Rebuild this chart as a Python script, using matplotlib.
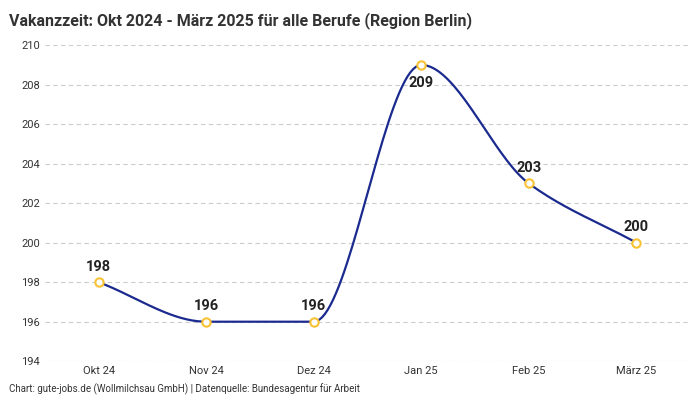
import numpy as np
import matplotlib.pyplot as plt

months = ['Okt 24', 'Nov 24', 'Dez 24', 'Jan 25', 'Feb 25', 'März 25']
vacancy_days = [198, 196, 196, 209, 203, 200]
y_ticks = [194, 196, 198, 200, 202, 204, 206, 208, 210]


def monotone_curve(x, y, n=40):
    """Fritsch-Carlson monotone cubic, used only to draw the smooth line"""
    x = np.asarray(x, float)
    y = np.asarray(y, float)
    h = np.diff(x)
    d = np.diff(y) / h
    m = np.zeros_like(y)
    m[0], m[-1] = d[0], d[-1]
    for i in range(1, len(y) - 1):
        if d[i - 1] * d[i] <= 0:
            m[i] = 0
        else:
            m[i] = 3 * (h[i - 1] + h[i]) / ((2 * h[i] + h[i - 1]) / d[i - 1] + (h[i] + 2 * h[i - 1]) / d[i])
    xs, ys = [], []
    for i in range(len(h)):
        t = np.linspace(0, 1, n)
        h00 = 2 * t**3 - 3 * t**2 + 1
        h10 = t**3 - 2 * t**2 + t
        h01 = -2 * t**3 + 3 * t**2
        h11 = t**3 - t**2
        xs.append(x[i] + t * h[i])
        ys.append(h00 * y[i] + h10 * h[i] * m[i] + h01 * y[i + 1] + h11 * h[i] * m[i + 1])
    return np.concatenate(xs), np.concatenate(ys)


plt.rcParams['font.family'] = 'Roboto'
fig = plt.figure(figsize=(7, 4), dpi=100)
ax = fig.add_axes([0.064, 0.097, 0.922, 0.79])

x = np.arange(len(months))
cx, cy = monotone_curve(x, vacancy_days)
ax.plot(cx, cy, color='#1b2a8f', lw=1.6, zorder=2)
ax.plot(x, vacancy_days, 'o', ms=6, mfc='white', mec='#f7c234', mew=1.5, zorder=3)

for xi, v in zip(x, vacancy_days):
    if v == max(vacancy_days):
        ax.annotate(str(v), (xi, v), xytext=(0, -8), textcoords='offset points',
                    ha='center', va='top', fontsize=10.5, fontweight='bold', color='#222')
    else:
        ax.annotate(str(v), (xi, v), xytext=(0, 6), textcoords='offset points',
                    ha='center', va='bottom', fontsize=10.5, fontweight='bold', color='#222')

ax.set_xlim(-0.5, len(months) - 0.5)
ax.set_ylim(194, 210)
ax.set_yticks(y_ticks)
ax.set_xticks(x)
ax.set_xticklabels(months)
ax.tick_params(length=0, labelsize=8, colors='#333')
ax.grid(axis='y', ls=(0, (4, 3)), color='#cccccc', lw=0.8)
for s in ax.spines.values():
    s.set_visible(False)

fig.text(0.013, 0.97, 'Vakanzzeit: Okt 2024 - März 2025 für alle Berufe (Region Berlin)',
         fontsize=11.5, fontweight='bold', color='#333', va='top')
fig.text(0.013, 0.018, 'Chart: gute-jobs.de (Wollmilchsau GmbH) | Datenquelle: Bundesagentur für Arbeit',
         fontsize=7, color='#333')

fig.savefig('out.png')
